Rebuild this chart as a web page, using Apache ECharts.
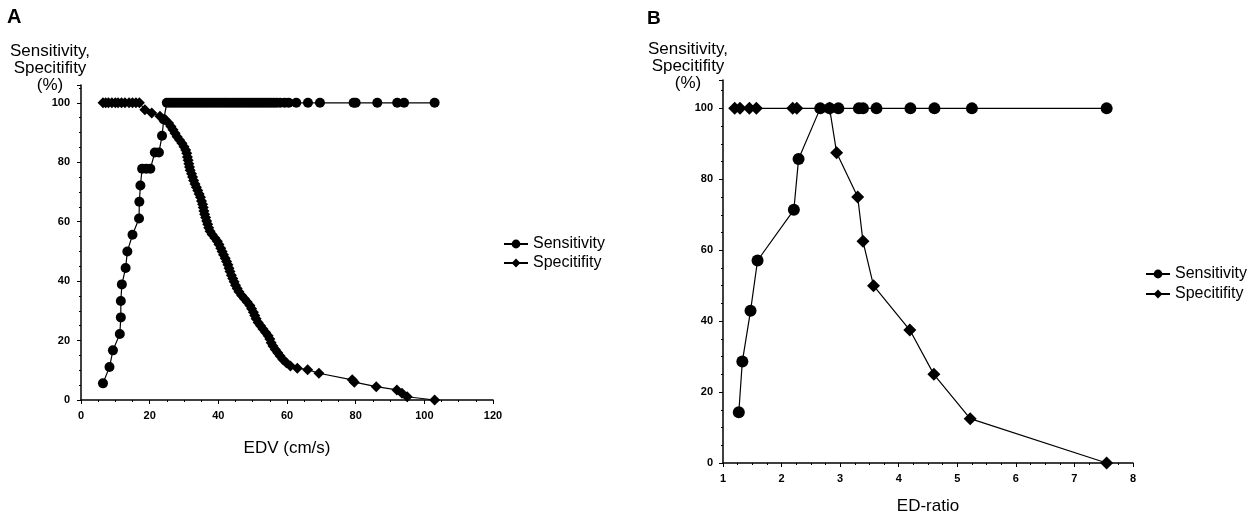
<!DOCTYPE html>
<html>
<head>
<meta charset="utf-8">
<script src="https://cdn.jsdelivr.net/npm/echarts@6/dist/echarts.min.js"></script>
<style>
  html, body { margin: 0; padding: 0; background: #fff; }
  #chart { width: 1260px; height: 515px; }
</style>
</head>
<body>
<div id="chart"></div>
<script>
// Panel A: EDV (cm/s)
const sensAx = [6.4, 8.3, 9.3, 11.3, 11.6, 11.6, 11.9, 13.0, 13.5, 15.0, 16.9, 17.0, 17.3, 17.8, 19.0, 20.2, 21.5, 22.7, 23.6, 24.1,
  25.0, 25.8, 26.6, 27.4, 28.2, 29.0, 29.8, 30.6, 31.4, 32.2, 33.0, 33.8, 34.6, 35.4, 36.2, 37.0, 37.8, 38.6, 39.4, 40.2,
  41.0, 41.8, 42.6, 43.4, 44.2, 45.0, 45.8, 46.6, 47.4, 48.2, 49.0, 49.8, 50.6, 51.4, 52.2, 53.0, 53.8, 54.6, 55.4, 56.2,
  57.0, 58.0, 59.3, 60.5, 62.7, 66.1, 69.6, 79.4, 80.0, 86.3, 92.1, 94.1, 103.0];
const sensAy = [5.6, 11.1, 16.7, 22.2, 27.8, 33.3, 38.9, 44.4, 50.0, 55.6, 61.1, 66.7, 72.2, 77.8, 77.8, 77.8, 83.3, 83.3, 88.9, 94.4,
  100, 100, 100, 100, 100, 100, 100, 100, 100, 100, 100, 100, 100, 100, 100, 100, 100, 100, 100, 100,
  100, 100, 100, 100, 100, 100, 100, 100, 100, 100, 100, 100, 100, 100, 100, 100, 100, 100, 100, 100,
  100, 100, 100, 100, 100, 100, 100, 100, 100, 100, 100, 100, 100];

const specAx = [6.4, 7.2, 8.0, 9.0, 10.0, 10.8, 11.8, 12.8, 14.0, 15.0, 16.0, 17.0,
  18.6, 20.6, 23.0, 24.5, 25.5, 26.2, 26.8, 27.4, 28.0, 28.7, 29.4, 30.0, 30.5, 30.8, 31.0, 31.2, 31.4, 31.6, 31.8,
  32.2, 32.5, 32.8, 33.2, 33.6, 34.0, 34.4, 34.8, 35.1, 35.4, 35.6, 35.8, 36.0, 36.3, 36.6, 36.9, 37.2, 37.6, 38.2,
  39.0, 39.7, 40.2, 40.7, 41.1, 41.5, 42.0, 42.4, 42.8, 43.1, 43.4, 43.8, 44.2, 44.6, 45.0, 45.5, 46.0, 46.8, 47.6,
  48.4, 49.2, 49.7, 50.2, 50.6, 51.0, 51.6, 52.3, 53.0, 53.8, 54.5, 55.0, 55.4, 55.9, 56.6, 57.3, 58.0, 58.8, 59.8,
  61.0, 63.0, 66.0, 69.3, 79.0, 79.6, 86.0, 92.0, 93.5, 95.0, 103.0];
const specAy = [100, 100, 100, 100, 100, 100, 100, 100, 100, 100, 100, 100,
  97.7, 96.6, 95.5, 94.3, 93.2, 92.0, 90.9, 89.8, 88.6, 87.5, 86.4, 85.2, 84.1, 83.0, 81.8, 80.7, 79.5, 78.4, 77.3,
  76.1, 75.0, 73.9, 72.7, 71.6, 70.5, 69.3, 68.2, 67.0, 65.9, 64.8, 63.6, 62.5, 61.4, 60.2, 59.1, 58.0, 56.8, 55.7,
  54.5, 53.4, 52.3, 51.1, 50.0, 48.9, 47.7, 46.6, 45.5, 44.3, 43.2, 42.0, 40.9, 39.8, 38.6, 37.5, 36.4, 35.2, 34.1,
  33.0, 31.8, 30.7, 29.5, 28.4, 27.3, 26.1, 25.0, 23.9, 22.7, 21.6, 20.5, 19.3, 18.2, 17.0, 15.9, 14.8, 13.6, 12.5,
  11.4, 10.7, 10.2, 9.0, 6.8, 6.0, 4.5, 3.4, 2.3, 1.1, 0];

// Panel B: ED-ratio
const sensBx = [1.27, 1.33, 1.47, 1.59, 2.21, 2.29, 2.66, 2.82, 2.97, 3.32, 3.39, 3.62, 4.20, 4.61, 5.25, 7.55];
const sensBy = [14.3, 28.6, 42.9, 57.1, 71.4, 85.7, 100, 100, 100, 100, 100, 100, 100, 100, 100, 100];
const specBx = [1.20, 1.29, 1.45, 1.57, 2.19, 2.26, 2.82, 2.94, 3.30, 3.39, 3.57, 4.19, 4.60, 5.22, 7.55];
const specBy = [100, 100, 100, 100, 100, 100, 100, 87.5, 75.0, 62.5, 50.0, 37.5, 25.0, 12.5, 0];

const yTicks = [0, 20, 40, 60, 80, 100];

const zip = (xs, ys) => xs.map((x, i) => [x, ys[i]]);

const font = 'Liberation Sans, Arial, sans-serif';
const tickLabel = { color: '#000', fontFamily: font, fontSize: 11, fontWeight: 'bold' };
const axisLine = { show: true, onZero: false, lineStyle: { color: '#000', width: 1.5 } };
const axisTick = { show: true, length: 4, lineStyle: { color: '#000' } };
const minorTick = { show: true, splitNumber: 4, length: 2, lineStyle: { color: '#000' } };
const nameStyle = { fontFamily: font, fontSize: 17, color: '#000' };

const chart = echarts.init(document.getElementById('chart'), null, { renderer: 'canvas' });

const lineSeries = (name, data, xi, symbol, size) => ({
  name: name,
  type: 'line',
  xAxisIndex: xi,
  yAxisIndex: xi,
  data: data,
  symbol: symbol,
  symbolSize: size,
  showAllSymbol: true,
  animation: false,
  lineStyle: { color: '#000', width: 1.2 },
  itemStyle: { color: '#000' }
});

const yLabel = 'Sensitivity,\nSpecitifity\n(%)';
const yLabelStyle = { fontFamily: font, fontSize: 17, fontWeight: 'normal', color: '#000', lineHeight: 17, align: 'center' };

chart.setOption({
  backgroundColor: '#fff',
  animation: false,
  title: [
    { text: 'A', left: 7, top: 7, padding: 0, textStyle: { fontFamily: font, fontSize: 20, fontWeight: 'bold', color: '#000' } },
    { text: 'B', left: 647, top: 9, padding: 0, textStyle: { fontFamily: font, fontSize: 19, fontWeight: 'bold', color: '#000' } },
    { text: yLabel, left: 50, top: 43, padding: 0, textAlign: 'center', textStyle: yLabelStyle },
    { text: yLabel, left: 688, top: 41, padding: 0, textAlign: 'center', textStyle: yLabelStyle }
  ],
  legend: [
    { data: ['Sensitivity', 'Specitifity'], orient: 'vertical', left: 503, top: 236, padding: 0, itemGap: 3,
      itemWidth: 24, itemHeight: 11, textStyle: { fontFamily: font, fontSize: 16, color: '#000' } },
    { data: ['Sensitivity ', 'Specitifity '], orient: 'vertical', left: 1145, top: 266, padding: 0, itemGap: 4,
      itemWidth: 24, itemHeight: 11, textStyle: { fontFamily: font, fontSize: 16, color: '#000' } }
  ],
  grid: [
    { left: 81, width: 412, top: 85, bottom: 115, containLabel: false, outerBoundsMode: 'none' },
    { left: 723, width: 410, top: 80, bottom: 52, containLabel: false, outerBoundsMode: 'none' }
  ],
  xAxis: [
    { type: 'value', gridIndex: 0, min: 0, max: 120, interval: 20,
      name: 'EDV (cm/s)', nameLocation: 'middle', nameGap: 40, nameTextStyle: nameStyle,
      axisLine: axisLine, axisTick: axisTick, minorTick: minorTick, splitLine: { show: false },
      axisLabel: Object.assign({ margin: 10 }, tickLabel) },
    { type: 'value', gridIndex: 1, min: 1, max: 8, interval: 1,
      name: 'ED-ratio', nameLocation: 'middle', nameGap: 35, nameTextStyle: nameStyle,
      axisLine: axisLine, axisTick: axisTick, minorTick: minorTick, splitLine: { show: false },
      axisLabel: Object.assign({ margin: 10 }, tickLabel) }
  ],
  yAxis: [
    { type: 'value', gridIndex: 0, min: 0, max: 106, interval: 20,
      axisLine: axisLine, axisTick: axisTick, minorTick: minorTick, splitLine: { show: false },
      axisLabel: Object.assign({ margin: 11, showMaxLabel: false,
        formatter: v => yTicks.includes(v) ? String(v) : '' }, tickLabel) },
    { type: 'value', gridIndex: 1, min: 0, max: 108, interval: 20,
      axisLine: axisLine, axisTick: axisTick, minorTick: minorTick, splitLine: { show: false },
      axisLabel: Object.assign({ margin: 10, showMaxLabel: false,
        formatter: v => yTicks.includes(v) ? String(v) : '' }, tickLabel) }
  ],
  series: [
    lineSeries('Sensitivity', zip(sensAx, sensAy), 0, 'circle', 10),
    lineSeries('Specitifity', zip(specAx, specAy), 0, 'diamond', 11),
    lineSeries('Sensitivity ', zip(sensBx, sensBy), 1, 'circle', 12),
    lineSeries('Specitifity ', zip(specBx, specBy), 1, 'diamond', 13)
  ]
});
</script>
</body>
</html>
